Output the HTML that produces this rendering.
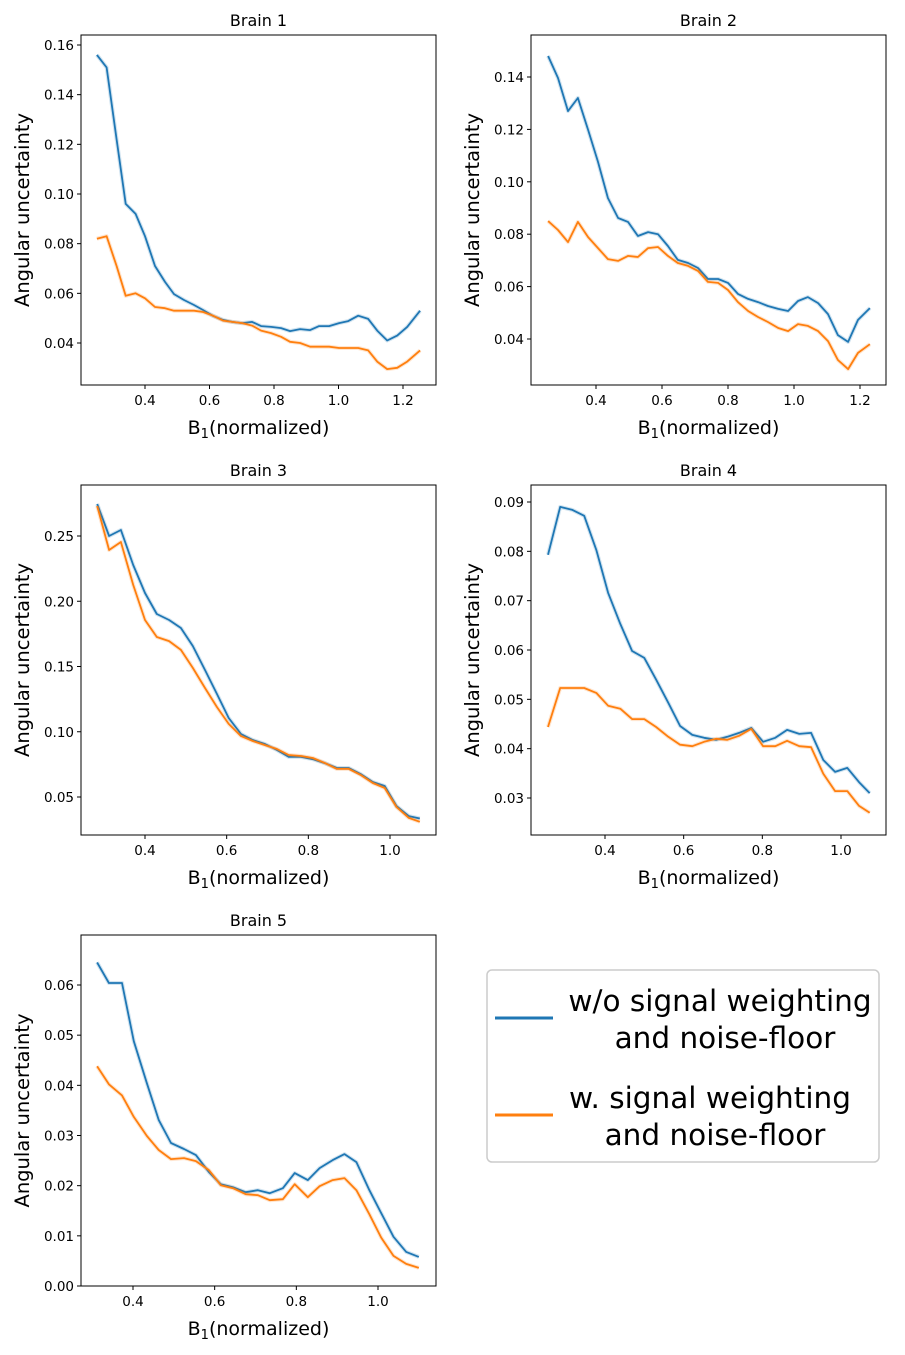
<!DOCTYPE html>
<html><head><meta charset="utf-8"><style>
body{margin:0;background:#fff;}
svg text{font-family:"DejaVu Sans","Liberation Sans",sans-serif;fill:#000;}
</style></head><body>
<svg id="fig" width="905" height="1350" viewBox="0 0 905 1350" xmlns="http://www.w3.org/2000/svg">
<g>
<rect x="487" y="970" width="392" height="192" rx="5" fill="#fff" stroke="#ccc" stroke-width="1.5"/>
<line x1="495" y1="1018" x2="553" y2="1018" stroke="#1f77b4" stroke-width="3"/>
<text x="720" y="1011" font-size="29.5" text-anchor="middle">w/o signal weighting</text>
<text x="725" y="1048" font-size="29.5" text-anchor="middle">and noise-floor</text>
<line x1="495" y1="1115" x2="553" y2="1115" stroke="#ff7f0e" stroke-width="3"/>
<text x="710" y="1108" font-size="29.5" text-anchor="middle">w. signal weighting</text>
<text x="715" y="1145" font-size="29.5" text-anchor="middle">and noise-floor</text>
</g>
</svg>
<script>
const x1 = [0.251,0.281,0.312,0.340,0.371,0.400,0.431,0.462,0.490,0.521,0.552,0.580,0.611,0.642,0.670,0.701,0.732,0.760,0.791,0.822,0.850,0.881,0.912,0.940,0.971,1.002,1.030,1.061,1.092,1.120,1.151,1.182,1.213,1.253];
const blue1 = [0.156,0.151,0.122,0.096,0.092,0.083,0.071,0.0646,0.0597,0.0573,0.0553,0.0533,0.0509,0.0493,0.0485,0.048,0.0485,0.0468,0.0465,0.046,0.0448,0.0456,0.0452,0.0468,0.0468,0.048,0.0488,0.051,0.0497,0.045,0.041,0.043,0.0465,0.053];
const orange1 = [0.082,0.083,0.071,0.059,0.060,0.058,0.0545,0.054,0.053,0.053,0.053,0.0525,0.051,0.049,0.0485,0.048,0.047,0.045,0.044,0.0425,0.0405,0.040,0.0385,0.0385,0.0385,0.038,0.038,0.038,0.037,0.0325,0.0295,0.030,0.0325,0.037];
const x2 = [0.255,0.285,0.315,0.345,0.376,0.406,0.436,0.467,0.497,0.527,0.558,0.588,0.618,0.648,0.679,0.709,0.739,0.770,0.800,0.830,0.861,0.891,0.921,0.952,0.982,1.012,1.042,1.073,1.103,1.133,1.164,1.194,1.230];
const blue2 = [0.148,0.1396,0.127,0.132,0.1198,0.1076,0.0938,0.0862,0.0847,0.0793,0.0808,0.080,0.0755,0.0702,0.069,0.0671,0.0629,0.0629,0.0614,0.0572,0.0553,0.0541,0.0526,0.0515,0.0507,0.0545,0.056,0.0537,0.0495,0.0415,0.0389,0.0473,0.0518];
const orange2 = [0.085,0.0816,0.077,0.0847,0.0789,0.0747,0.0705,0.0698,0.0717,0.0713,0.0747,0.0751,0.0717,0.069,0.0679,0.066,0.0618,0.0614,0.0587,0.0541,0.0507,0.0484,0.0465,0.0442,0.043,0.0457,0.045,0.043,0.0392,0.032,0.0285,0.0347,0.038];
const x3 = [0.283,0.312,0.341,0.371,0.400,0.429,0.459,0.488,0.517,0.547,0.576,0.605,0.635,0.664,0.694,0.723,0.752,0.782,0.811,0.840,0.870,0.899,0.928,0.958,0.987,1.016,1.046,1.073];
const blue3 = [0.2745,0.25,0.2546,0.2278,0.2063,0.1902,0.1856,0.1795,0.1657,0.1473,0.129,0.1105,0.0983,0.0937,0.0906,0.086,0.0807,0.0807,0.079,0.076,0.0722,0.0722,0.0676,0.0615,0.0584,0.043,0.0354,0.0335];
const orange3 = [0.273,0.2393,0.2454,0.2125,0.1856,0.1726,0.1695,0.1627,0.1489,0.1335,0.119,0.106,0.0967,0.0929,0.0898,0.0868,0.0822,0.0814,0.0799,0.0761,0.0715,0.0715,0.0669,0.0607,0.0569,0.0423,0.034,0.031];
const x4 = [0.255,0.286,0.317,0.347,0.378,0.408,0.439,0.469,0.500,0.530,0.561,0.591,0.622,0.652,0.683,0.711,0.741,0.772,0.802,0.833,0.863,0.894,0.924,0.955,0.985,1.016,1.046,1.073];
const blue4 = [0.0793,0.089,0.0884,0.0872,0.0803,0.0716,0.0653,0.0598,0.0584,0.054,0.0493,0.0446,0.0428,0.0422,0.0418,0.0424,0.0432,0.0442,0.0414,0.0422,0.0438,0.043,0.0432,0.0377,0.0353,0.0361,0.0332,0.031];
const orange4 = [0.0444,0.0523,0.0523,0.0523,0.0513,0.0487,0.0481,0.046,0.046,0.0444,0.0424,0.0408,0.0405,0.0414,0.042,0.0418,0.0426,0.044,0.0405,0.0405,0.0416,0.0405,0.0403,0.0349,0.0314,0.0314,0.0284,0.027];
const x5 = [0.312,0.341,0.373,0.402,0.434,0.463,0.493,0.525,0.554,0.586,0.615,0.645,0.676,0.706,0.735,0.767,0.796,0.828,0.857,0.889,0.918,0.947,0.979,1.008,1.038,1.069,1.100];
const blue5 = [0.0645,0.0604,0.0604,0.0488,0.0404,0.0331,0.0285,0.0273,0.0261,0.0227,0.0203,0.0197,0.0187,0.0191,0.0185,0.0195,0.0225,0.0211,0.0235,0.0251,0.0263,0.0247,0.0191,0.0145,0.0098,0.0068,0.0058];
const orange5 = [0.0438,0.0402,0.038,0.0337,0.0299,0.0271,0.0253,0.0255,0.0249,0.0231,0.0201,0.0195,0.0183,0.0181,0.0171,0.0173,0.0203,0.0177,0.0199,0.0211,0.0215,0.0191,0.0143,0.0096,0.006,0.0044,0.0036];
const yTicks1 = ["0.04","0.06","0.08","0.10","0.12","0.14","0.16"];
const yTicks2 = ["0.04","0.06","0.08","0.10","0.12","0.14"];
const yTicks3 = ["0.05","0.10","0.15","0.20","0.25"];
const yTicks4 = ["0.03","0.04","0.05","0.06","0.07","0.08","0.09"];
const yTicks5 = ["0.00","0.01","0.02","0.03","0.04","0.05","0.06"];
const xTicksA = ["0.4","0.6","0.8","1.0","1.2"];
const xTicksB = ["0.4","0.6","0.8","1.0"];
const titles = ["Brain 1","Brain 2","Brain 3","Brain 4","Brain 5"];

const NS="http://www.w3.org/2000/svg";
const svg=document.getElementById('fig');
function mk(tag,attrs,parent){const e=document.createElementNS(NS,tag);for(const k in attrs)e.setAttribute(k,attrs[k]);parent.appendChild(e);return e;}

const panels=[
 {box:[81,35,436,385],xr:[0.4,145,1.2,403],yr:[0.04,343,0.16,45],xs:x1,b:blue1,o:orange1,yt:yTicks1,xt:xTicksA},
 {box:[531,35,886,385],xr:[0.4,596,1.2,860],yr:[0.04,339,0.14,77],xs:x2,b:blue2,o:orange2,yt:yTicks2,xt:xTicksA},
 {box:[81,485,436,835],xr:[0.4,145,1.0,390],yr:[0.05,797,0.25,536],xs:x3,b:blue3,o:orange3,yt:yTicks3,xt:xTicksB},
 {box:[531,485,886,835],xr:[0.4,605,1.0,841],yr:[0.03,798,0.09,502],xs:x4,b:blue4,o:orange4,yt:yTicks4,xt:xTicksB},
 {box:[81,935,436,1286],xr:[0.4,133,1.0,378],yr:[0.0,1286,0.06,985],xs:x5,b:blue5,o:orange5,yt:yTicks5,xt:xTicksB}
];
panels.forEach((p,i)=>{
 const [bx0,by0,bx1,by1]=p.box;
 const sx=v=>p.xr[1]+(v-p.xr[0])*(p.xr[3]-p.xr[1])/(p.xr[2]-p.xr[0]);
 const sy=v=>p.yr[1]+(v-p.yr[0])*(p.yr[3]-p.yr[1])/(p.yr[2]-p.yr[0]);
 const g=mk('g',{},svg);
 
 
 const mkLine=(xs,ys,col,name)=>{
  const d=xs.map((x,j)=>(j?'L':'M')+sx(x).toFixed(1)+','+sy(ys[j]).toFixed(1)).join('');
  const band=mk('path',{d:d,fill:'none',stroke:col,'stroke-width':4,'stroke-opacity':0.2,'stroke-linejoin':'round'},g);
  
  
  const l=mk('path',{d:d,fill:'none',stroke:col,'stroke-width':1.8,'stroke-linejoin':'round'},g);
  
  
 };
 mkLine(p.xs,p.b,'#1f77b4','series-without-weighting');
 mkLine(p.xs,p.o,'#ff7f0e','series-with-weighting');
 const r=mk('rect',{x:bx0,y:by0,width:bx1-bx0,height:by1-by0,fill:'none',stroke:'#000','stroke-width':1},g);
 
 
 p.yt.forEach(t=>{
  const y=sy(parseFloat(t));
  mk('line',{x1:bx0-4,y1:y,x2:bx0,y2:y,stroke:'#000'},g);
  const tx=mk('text',{x:bx0-7,y:y+5,'font-size':13.5,'text-anchor':'end'},g);
  tx.textContent=t;
  
  
 });
 p.xt.forEach(t=>{
  const x=sx(parseFloat(t));
  mk('line',{x1:x,y1:by1,x2:x,y2:by1+4,stroke:'#000'},g);
  const tx=mk('text',{x:x,y:by1+20,'font-size':13.5,'text-anchor':'middle'},g);
  tx.textContent=t;
  
  
 });
 const cx=(bx0+bx1)/2, cy=(by0+by1)/2;
 const tt=mk('text',{x:cx,y:by0-9,'font-size':16,'text-anchor':'middle'},g);
 tt.textContent=titles[i];
 
 
 const xl=mk('text',{x:cx,y:by1+49,'font-size':19,'text-anchor':'middle'},g);
 xl.innerHTML='B<tspan font-size="13" dy="4">1</tspan><tspan dy="-4">(normalized)</tspan>';
 
 
 const yl=mk('text',{x:0,y:0,'font-size':19.5,'text-anchor':'middle',transform:`translate(${bx0-52},${cy}) rotate(-90)`},g);
 yl.textContent='Angular uncertainty';
 
 
});
</script>
</body></html>
